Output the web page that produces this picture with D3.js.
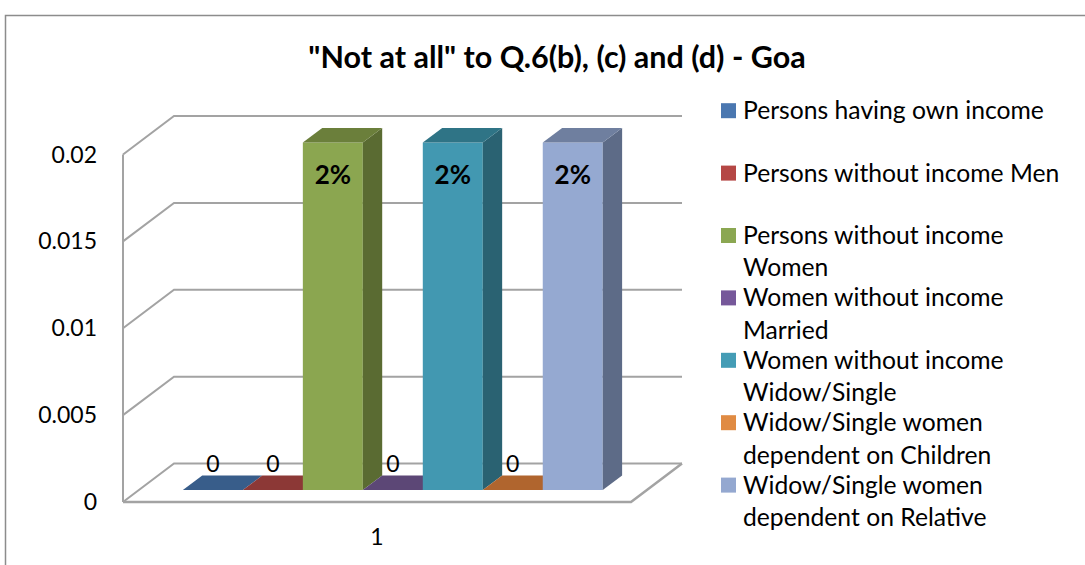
<!DOCTYPE html>
<html>
<head>
<meta charset="utf-8">
<script src="https://cdn.jsdelivr.net/npm/d3@7"></script>
<style>
  html, body { margin: 0; padding: 0; background: #fff; }
  svg { display: block; font-family: Lato, "Open Sans", sans-serif; }
</style>
</head>
<body>
<svg id="chart" width="1085" height="565"></svg>
<script>
// ---- data ----
const categories = ["1"];
const seriesNames = [
  "Persons having own income",
  "Persons without income Men",
  "Persons without income Women",
  "Women without income Married",
  "Women without income Widow/Single",
  "Widow/Single women dependent on Children",
  "Widow/Single women dependent on Relative"
];
const seriesValues = [0, 0, 0.02, 0, 0.02, 0, 0.02];
const valueLabels = ["0", "0", "2%", "0", "2%", "0", "2%"];
const legendLines = [
  ["Persons having own income"],
  ["Persons without income Men"],
  ["Persons without income", "Women"],
  ["Women without income", "Married"],
  ["Women without income", "Widow/Single"],
  ["Widow/Single women", "dependent on Children"],
  ["Widow/Single women", "dependent on Relative"]
];
const yTicks = [0, 0.005, 0.01, 0.015, 0.02];
const yTickLabels = ["0", "0.005", "0.01", "0.015", "0.02"];
const titleText = "\"Not at all\" to Q.6(b), (c) and (d) - Goa";

// face colours per series: front, side, top, legend swatch
const colFront = ["#4a77b0", "#b54745", "#8ba650", "#76589a", "#4298b1", "#e08b43", "#95a9d1"];
const colSide  = ["#2f4d75", "#7a2f2d", "#5a6b32", "#4e3a67", "#2a6272", "#a35d2b", "#5d6b87"];
const colTop   = ["#385d8a", "#8c3836", "#6b7f3b", "#5c4776", "#2f7486", "#b0652e", "#6f7f9f"];
const colLegend = ["#4a77b0", "#b54745", "#8ba752", "#76589a", "#449cb5", "#e08b43", "#94a8d0"];

const svg = d3.select("#chart");

// ---- 3D projection ----
// back-wall plane coordinates (x, value), depth z in [0 (back), 1 (front)]
const wallLeft = 174, wallRight = 682;
const depthDX = -51, depthDY = 38.5;
const y = d3.scaleLinear().domain([0, 0.02]).range([463.5, 116]);
const proj = (x, v, z) => [x + z * depthDX, y(v) + z * depthDY];

const xCat = d3.scaleBand().domain(categories).range([wallLeft, wallRight]).padding(0.095);
const xSer = d3.scaleBand().domain(seriesNames).range([xCat(categories[0]), xCat(categories[0]) + xCat.bandwidth()]);
const zBack = 0.31, zFront = 0.69;

// outer chart frame
svg.append("rect")
  .attr("x", 5.5).attr("y", 15.5).attr("width", 1100).attr("height", 600)
  .attr("fill", "none").attr("stroke", "#8c8c8c").attr("stroke-width", 1.5);

// title
svg.append("text")
  .attr("x", 557).attr("y", 68)
  .attr("text-anchor", "middle")
  .attr("font-weight", "bold").attr("font-size", 30.5)
  .attr("fill", "#000")
  .text(titleText);

const grid = svg.append("g").attr("stroke", "#a3a3a3").attr("stroke-width", 2).attr("fill", "none");
const line = d3.line();

// gridlines on back wall and left side wall
yTicks.forEach(t => {
  grid.append("path").attr("d", line([proj(wallRight, t, 0), proj(wallLeft, t, 0), proj(wallLeft, t, 1)]));
});
// floor outline
grid.append("path").attr("d", line([proj(wallRight, 0, 0), proj(wallRight, 0, 1), proj(wallLeft, 0, 1)]))
  .attr("stroke-width", 2.5);
// vertical axis line at the front-left edge
grid.append("path").attr("d", line([proj(wallLeft, 0.02, 1), proj(wallLeft, 0, 1)]));

// y tick labels
svg.append("g").selectAll("text").data(yTicks).join("text")
  .attr("x", 97)
  .attr("y", d => proj(wallLeft, d, 1)[1])
  .attr("dy", "0.35em")
  .attr("text-anchor", "end")
  .attr("font-size", 23).attr("fill", "#000")
  .text((d, i) => yTickLabels[i]);

// category label
svg.append("text")
  .attr("x", (proj(wallLeft, 0, 1)[0] + proj(wallRight, 0, 1)[0]) / 2)
  .attr("y", 545)
  .attr("text-anchor", "middle")
  .attr("font-size", 23).attr("fill", "#000")
  .text(categories[0]);

// ---- bars ----
const bars = svg.append("g");
seriesNames.forEach((name, i) => {
  const v = seriesValues[i];
  const x0 = xSer(name), x1 = x0 + xSer.bandwidth();
  const g = bars.append("g");
  if (v > 0) {
    // front face
    g.append("path").attr("fill", colFront[i])
      .attr("d", line([proj(x0, 0, zFront), proj(x1, 0, zFront), proj(x1, v, zFront), proj(x0, v, zFront)]) + "Z");
    // right side face
    g.append("path").attr("fill", colSide[i])
      .attr("d", line([proj(x1, 0, zFront), proj(x1, 0, zBack), proj(x1, v, zBack), proj(x1, v, zFront)]) + "Z");
  }
  // top face
  g.append("path").attr("fill", colTop[i])
    .attr("d", line([proj(x0, v, zFront), proj(x1, v, zFront), proj(x1, v, zBack), proj(x0, v, zBack)]) + "Z");
});

// value labels
svg.append("g").selectAll("text").data(seriesNames).join("text")
  .attr("x", d => proj(xSer(d) + xSer.bandwidth() / 2, 0, zFront)[0])
  .attr("y", (d, i) => seriesValues[i] > 0 ? proj(0, seriesValues[i], zFront)[1] + 41 : y(0) + 8)
  .attr("text-anchor", "middle")
  .attr("font-size", (d, i) => seriesValues[i] > 0 ? 26 : 23)
  .attr("font-weight", (d, i) => seriesValues[i] > 0 ? "bold" : "normal")
  .attr("fill", "#000")
  .text((d, i) => valueLabels[i]);

// ---- legend ----
const legend = svg.append("g");
seriesNames.forEach((name, i) => {
  const cy = 110.7 + i * 62.4;
  legend.append("rect")
    .attr("x", 721).attr("y", cy - 7.5).attr("width", 15).attr("height", 15)
    .attr("fill", colLegend[i]);
  const t = legend.append("text").attr("font-size", 24.7).attr("fill", "#000");
  legendLines[i].forEach((ln, k) => {
    t.append("tspan").attr("x", 743).attr("y", cy + 8.5 + k * 32.3).text(ln);
  });
});
</script>
</body>
</html>
